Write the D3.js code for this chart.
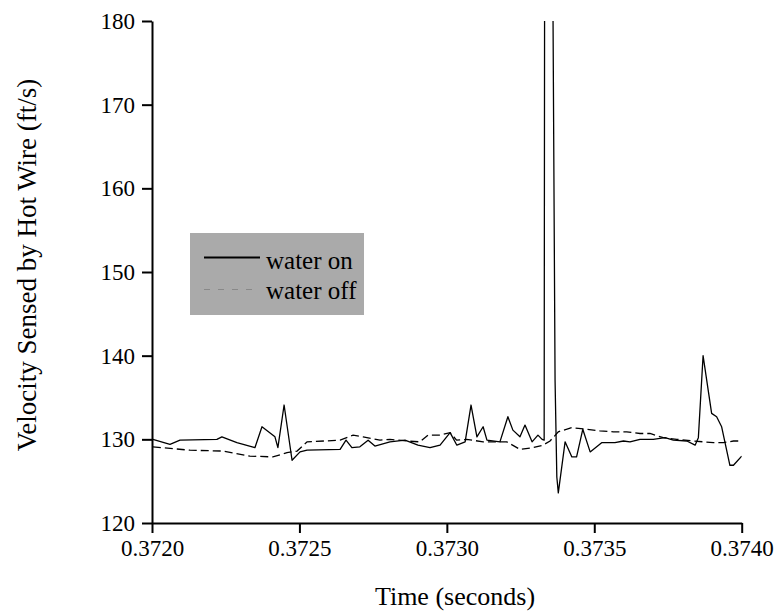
<!DOCTYPE html>
<html>
<head>
<meta charset="utf-8">
<script src="https://cdn.jsdelivr.net/npm/d3@7"></script>
<style>
  body { margin: 0; background: #fff; }
  svg text { font-family: "Times New Roman", Times, "Liberation Serif", "DejaVu Serif", serif; }
</style>
</head>
<body>
<div id="chart"></div>
<script>
// time (s) and velocity (ft/s)
var onTime = [0.372003, 0.372061, 0.372095, 0.372220, 0.372237, 0.372288, 0.372349, 0.372373,
  0.372417, 0.372427, 0.372448, 0.372475, 0.372502, 0.372526, 0.372638, 0.372658, 0.372678,
  0.372705, 0.372733, 0.372756, 0.372807, 0.372858, 0.372902, 0.372943, 0.372977, 0.373011,
  0.373034, 0.373062, 0.373082, 0.373102, 0.373123, 0.373136, 0.373180, 0.373207, 0.373224,
  0.373248, 0.373265, 0.373289, 0.373309, 0.373323, 0.373330, 0.373332, 0.373343, 0.373357,
  0.373367, 0.373373, 0.373378, 0.373401, 0.373424, 0.373440, 0.373461, 0.373486, 0.373525,
  0.373570, 0.373599, 0.373621, 0.373655, 0.373700, 0.373740, 0.373768, 0.373814, 0.373842,
  0.373853, 0.373869, 0.373898, 0.373915, 0.373932, 0.373960, 0.373972, 0.374000];
var onVel = [130.0, 129.4, 129.9, 130.0, 130.3, 129.6, 129.0, 131.5,
  130.3, 129.0, 134.1, 127.5, 128.5, 128.7, 128.8, 129.9, 129.0,
  129.1, 129.9, 129.2, 129.7, 129.9, 129.3, 129.0, 129.3, 130.8,
  129.3, 129.7, 134.1, 130.3, 131.5, 129.9, 129.7, 132.7, 131.1,
  130.3, 131.7, 129.7, 130.5, 130.0, 129.9, 200.0, 260.0, 200.0,
  137.1, 125.5, 123.6, 129.7, 127.9, 127.9, 131.2, 128.5, 129.6,
  129.6, 129.8, 129.7, 130.0, 130.0, 130.2, 129.9, 129.8, 129.3,
  130.2, 140.0, 133.1, 132.7, 131.5, 126.9, 126.9, 128.0];

var offTime = [0.372003, 0.372129, 0.372241, 0.372332, 0.372410, 0.372458, 0.372492, 0.372526,
  0.372638, 0.372682, 0.372716, 0.372773, 0.372807, 0.372864, 0.372909, 0.372936, 0.372977,
  0.373011, 0.373033, 0.373067, 0.373123, 0.373169, 0.373203, 0.373248, 0.373292, 0.373326,
  0.373350, 0.373378, 0.373424, 0.373474, 0.373519, 0.373565, 0.373610, 0.373655, 0.373689,
  0.373734, 0.373780, 0.373836, 0.373870, 0.373904, 0.373938, 0.373972, 0.374000];
var offVel = [129.1, 128.7, 128.6, 128.0, 127.9, 128.4, 128.6, 129.7,
  129.9, 130.5, 130.3, 129.9, 130.0, 129.8, 129.7, 130.5, 130.5,
  130.8, 129.9, 130.0, 129.7, 129.7, 129.7, 128.8, 129.0, 129.3,
  129.8, 130.9, 131.4, 131.2, 131.0, 130.9, 130.9, 130.7, 130.7,
  130.2, 130.0, 129.8, 129.7, 129.6, 129.6, 129.8, 129.8];

var seriesNames = ["water on", "water off"];
var xDomain = [0.3720, 0.3740];
var yDomain = [120, 180];

var serif = "'Times New Roman', Times, 'Liberation Serif', 'DejaVu Serif', serif";

var w = 778, h = 616;
var margin = {top: 21, left: 152, right: 36.3, bottom: 93};

var svg = d3.select("#chart").append("svg")
    .attr("width", w)
    .attr("height", h)
    .attr("font-family", serif);

var x = d3.scaleLinear().domain(xDomain).range([margin.left, w - margin.right]);
var y = d3.scaleLinear().domain(yDomain).range([h - margin.bottom, margin.top]);

svg.append("defs").append("clipPath").attr("id", "plotclip")
  .append("rect")
    .attr("x", x.range()[0])
    .attr("y", y.range()[1])
    .attr("width", x.range()[1] - x.range()[0])
    .attr("height", y.range()[0] - y.range()[1]);

function toPoints(ts, vs) {
  return ts.map(function(t, i) { return [t, vs[i]]; });
}

var line = d3.line()
    .x(function(d) { return x(d[0]); })
    .y(function(d) { return y(d[1]); });

var plot = svg.append("g").attr("clip-path", "url(#plotclip)");

plot.append("path")
    .datum(toPoints(offTime, offVel))
    .attr("d", line)
    .attr("fill", "none")
    .attr("stroke", "#000")
    .attr("stroke-width", 1.3)
    .attr("stroke-dasharray", "8,4");

plot.append("path")
    .datum(toPoints(onTime, onVel))
    .attr("d", line)
    .attr("fill", "none")
    .attr("stroke", "#000")
    .attr("stroke-width", 1.3)
    .attr("stroke-linejoin", "round");

// axes: minor ticks first, then major with labels
var xMinor = d3.range(0, 21).map(function(i) { return 0.3720 + i * 0.0001; });
var xMajor = d3.range(0, 5).map(function(i) { return 0.3720 + i * 0.0005; });
var yMinor = d3.range(120, 181, 2);
var yMajor = d3.range(120, 181, 10);

var gx = svg.append("g").attr("transform", "translate(0," + y.range()[0] + ")");
gx.call(d3.axisBottom(x).tickValues(xMinor).tickSize(5).tickFormat(""));
gx.call(d3.axisBottom(x).tickValues(xMajor).tickSizeInner(10).tickSizeOuter(0)
    .tickPadding(7).tickFormat(d3.format(".4f")));

var gy = svg.append("g").attr("transform", "translate(" + x.range()[0] + ",0)");
gy.call(d3.axisLeft(y).tickValues(yMinor).tickSize(5).tickFormat(""));
gy.call(d3.axisLeft(y).tickValues(yMajor).tickSizeInner(10).tickSizeOuter(0)
    .tickPadding(7).tickFormat(d3.format("d")));

svg.selectAll("g").filter(function() { return this.hasAttribute("font-family"); })
    .attr("font-family", serif);
svg.selectAll(".domain").attr("stroke-width", 2).attr("stroke", "#000");
svg.selectAll(".tick line").attr("stroke-width", 2).attr("stroke", "#000");
svg.selectAll(".tick text")
    .attr("font-size", 23)
    .attr("fill", "#000");

// titles
svg.append("text")
    .attr("x", 455)
    .attr("y", 605)
    .attr("text-anchor", "middle")
    .attr("font-size", 26)
    .text("Time (seconds)");

svg.append("text")
    .attr("transform", "translate(36,265) rotate(-90)")
    .attr("text-anchor", "middle")
    .attr("font-size", 27)
    .text("Velocity Sensed by Hot Wire (ft/s)");

// legend
var legend = svg.append("g");
legend.append("rect")
    .attr("x", 190).attr("y", 233)
    .attr("width", 174).attr("height", 82)
    .attr("fill", "#aaaaaa");
legend.append("line")
    .attr("x1", 204).attr("x2", 260).attr("y1", 257.5).attr("y2", 257.5)
    .attr("stroke", "#000").attr("stroke-width", 2);
legend.append("line")
    .attr("x1", 204).attr("x2", 260).attr("y1", 289.5).attr("y2", 289.5)
    .attr("stroke", "#888").attr("stroke-width", 1)
    .attr("stroke-dasharray", "6,8");
legend.selectAll("text.lab")
    .data(seriesNames)
    .enter().append("text")
    .attr("class", "lab")
    .attr("x", 266)
    .attr("y", function(d, i) { return 269 + i * 30; })
    .attr("font-size", 25)
    .text(function(d) { return d; });
</script>
</body>
</html>
